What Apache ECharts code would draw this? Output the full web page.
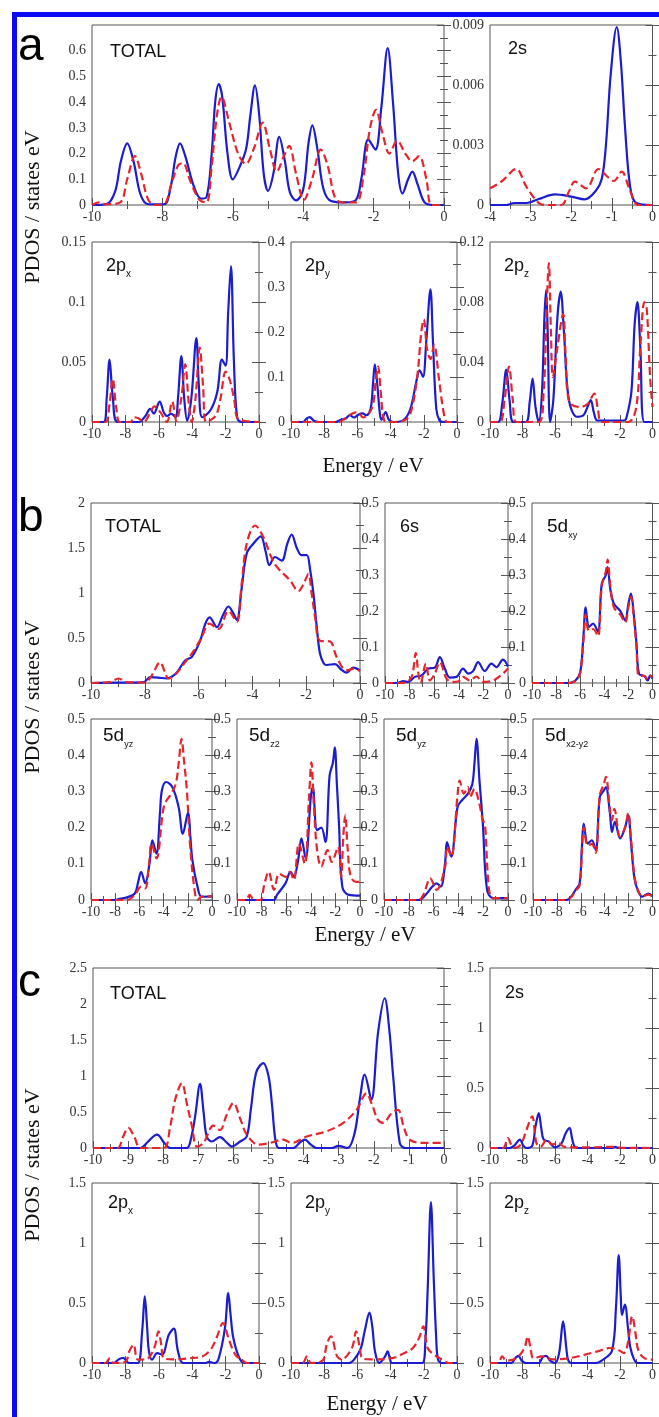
<!DOCTYPE html>
<html>
<head>
<meta charset="utf-8">
<script src="https://cdn.jsdelivr.net/npm/echarts@6/dist/echarts.min.js"></script>
<style>
  html, body { margin: 0; padding: 0; background: #fff; }
  #chart { width: 659px; height: 1417px; }
</style>
</head>
<body>
<div id="chart"></div>
<script>
// ---- data: [energy (eV), PDOS] ----
const aTotalBlue = [[-10,0],[-9.6,0.003],[-9.35,0.05],[-9.18,0.17],[-9.0,0.24],[-8.82,0.17],[-8.62,0.04],[-8.4,0.003],[-7.95,0.003],[-7.78,0.06],[-7.62,0.19],[-7.5,0.24],[-7.35,0.19],[-7.1,0.07],[-6.9,0.025],[-6.75,0.03],[-6.6,0.2],[-6.5,0.4],[-6.4,0.47],[-6.3,0.42],[-6.15,0.2],[-6.0,0.1],[-5.8,0.15],[-5.62,0.22],[-5.5,0.35],[-5.37,0.465],[-5.25,0.35],[-5.12,0.12],[-5.0,0.055],[-4.85,0.12],[-4.68,0.265],[-4.52,0.17],[-4.38,0.05],[-4.2,0.018],[-4.0,0.06],[-3.85,0.24],[-3.74,0.31],[-3.6,0.22],[-3.42,0.06],[-3.2,0.015],[-2.8,0.01],[-2.5,0.02],[-2.35,0.1],[-2.15,0.255],[-1.95,0.215],[-1.78,0.38],[-1.6,0.61],[-1.45,0.4],[-1.3,0.12],[-1.18,0.045],[-1.02,0.1],[-0.9,0.13],[-0.75,0.08],[-0.55,0.01],[-0.3,0],[0,0]];
const aTotalRed = [[-10,0],[-9.8,0.01],[-9.6,0.003],[-9.2,0.01],[-9.0,0.1],[-8.78,0.19],[-8.6,0.12],[-8.4,0.02],[-8.2,0],[-7.95,0.003],[-7.75,0.08],[-7.55,0.155],[-7.42,0.163],[-7.2,0.09],[-6.95,0.02],[-6.75,0.01],[-6.6,0.15],[-6.45,0.35],[-6.32,0.42],[-6.1,0.32],[-5.85,0.2],[-5.63,0.16],[-5.4,0.22],[-5.15,0.32],[-4.95,0.22],[-4.75,0.13],[-4.55,0.19],[-4.4,0.23],[-4.2,0.12],[-3.98,0.02],[-3.75,0.1],[-3.5,0.215],[-3.3,0.15],[-3.1,0.03],[-2.9,0.01],[-2.5,0.01],[-2.3,0.1],[-2.1,0.3],[-1.93,0.37],[-1.75,0.28],[-1.55,0.2],[-1.33,0.25],[-1.1,0.2],[-0.9,0.17],[-0.71,0.19],[-0.5,0.1],[-0.35,0],[0,0]];
const a2sBlue = [[-4,0],[-3.6,0],[-3.4,0.0001],[-3.1,0.0001],[-2.8,0.0003],[-2.4,0.00053],[-2.0,0.00042],[-1.67,0.00028],[-1.4,0.0007],[-1.25,0.0013],[-1.15,0.0029],[-1.03,0.0065],[-0.88,0.0089],[-0.78,0.0072],[-0.68,0.004],[-0.55,0.0009],[-0.4,0.0001],[0,0]];
const a2sRed = [[-4,0.00083],[-3.7,0.0012],[-3.36,0.0018],[-3.1,0.0009],[-2.8,0.0001],[-2.6,0],[-2.25,0],[-2.05,0.0007],[-1.91,0.00117],[-1.63,0.00083],[-1.33,0.0018],[-1.1,0.0014],[-0.95,0.0012],[-0.76,0.00167],[-0.55,0.0007],[-0.35,0],[0,0]];
const a2pxBlue = [[-10,0],[-9.3,0],[-9.12,0.02],[-8.95,0.052],[-8.75,0.02],[-8.45,0],[-7.2,0],[-6.8,0.005],[-6.52,0.011],[-6.3,0.007],[-5.95,0.017],[-5.7,0.008],[-5.5,0.005],[-5.27,0.007],[-5.0,0.004],[-4.85,0.02],[-4.65,0.055],[-4.48,0.02],[-4.3,0.001],[-4.05,0.02],[-3.75,0.07],[-3.6,0.03],[-3.4,0.004],[-2.9,0.01],[-2.5,0.025],[-2.22,0.052],[-2.0,0.047],[-1.85,0.09],[-1.68,0.13],[-1.5,0.05],[-1.3,0.003],[-1.0,0],[0,0]];
const a2pxRed = [[-10,0],[-9.2,0],[-8.95,0.015],[-8.76,0.036],[-8.55,0.012],[-8.33,0],[-7.7,0],[-7.5,0.004],[-7.2,0.003],[-6.9,0],[-6.5,0.008],[-6.27,0.013],[-5.9,0.008],[-5.52,0],[-5.2,0.017],[-4.95,0.001],[-4.65,0.02],[-4.42,0.048],[-4.2,0.015],[-4.03,0],[-3.8,0.02],[-3.55,0.062],[-3.35,0.03],[-3.16,0],[-2.6,0.005],[-2.3,0.02],[-2.0,0.042],[-1.75,0.035],[-1.5,0.02],[-1.2,0.002],[0,0]];
const a2pyBlue = [[-10,0],[-9.3,0],[-9.05,0.008],[-8.88,0.011],[-8.6,0.002],[-8.3,0],[-7.3,0],[-7.0,0.005],[-6.7,0.008],[-6.46,0.015],[-6.2,0.01],[-5.95,0.016],[-5.7,0.019],[-5.45,0.015],[-5.2,0.03],[-5.05,0.09],[-4.95,0.128],[-4.82,0.09],[-4.65,0.02],[-4.55,0.005],[-4.3,0.022],[-4.1,0.005],[-3.8,0],[-3.2,0.005],[-2.8,0.03],[-2.45,0.09],[-2.25,0.115],[-2.05,0.1],[-1.85,0.18],[-1.6,0.295],[-1.45,0.18],[-1.25,0.03],[-1.05,0.003],[-0.8,0],[0,0]];
const a2pyRed = [[-10,0],[-7.2,0],[-6.8,0.006],[-6.5,0.015],[-6.0,0.022],[-5.65,0.01],[-5.3,0.019],[-5.05,0.04],[-4.9,0.09],[-4.75,0.123],[-4.6,0.07],[-4.4,0.005],[-4.1,0],[-3.2,0.003],[-2.8,0.02],[-2.4,0.1],[-2.15,0.2],[-2.0,0.228],[-1.8,0.16],[-1.6,0.14],[-1.38,0.172],[-1.1,0.1],[-0.8,0.02],[-0.6,0],[0,0]];
const a2pzBlue = [[-10,0],[-9.5,0],[-9.25,0.012],[-9.0,0.035],[-8.8,0.015],[-8.55,0],[-7.8,0],[-7.55,0.014],[-7.38,0.029],[-7.2,0.01],[-7.0,0],[-6.8,0.02],[-6.65,0.07],[-6.55,0.088],[-6.45,0.06],[-6.3,0],[-6.1,0.015],[-5.85,0.07],[-5.65,0.087],[-5.45,0.06],[-5.15,0.015],[-4.65,0.0035],[-4.25,0.0045],[-4.0,0.01],[-3.8,0.0146],[-3.6,0.006],[-3.38,0.001],[-1.75,0.001],[-1.6,0.003],[-1.3,0.02],[-1.1,0.065],[-0.93,0.08],[-0.75,0.05],[-0.5,0],[0,0]];
const a2pzRed = [[-10,0],[-9.4,0],[-9.1,0.015],[-8.83,0.037],[-8.6,0.015],[-8.38,0],[-7.0,0],[-6.7,0.02],[-6.5,0.08],[-6.38,0.106],[-6.25,0.06],[-6.13,0.03],[-5.85,0.05],[-5.5,0.072],[-5.35,0.045],[-5.13,0.0135],[-4.5,0.01],[-4.0,0.012],[-3.58,0.019],[-3.35,0.008],[-3.13,0],[-1.5,0],[-1.0,0.01],[-0.75,0.05],[-0.5,0.08],[-0.35,0.075],[-0.15,0.03],[0,0.01]];

const bTotalBlue = [[-10,0],[-9,0.005],[-8.5,0.005],[-8.04,0.01],[-7.8,0.065],[-7.5,0.06],[-7.18,0.05],[-7.0,0.07],[-6.8,0.12],[-6.5,0.25],[-6.25,0.29],[-5.94,0.47],[-5.75,0.66],[-5.59,0.73],[-5.32,0.62],[-5.1,0.75],[-4.89,0.85],[-4.72,0.78],[-4.58,0.7],[-4.4,1.05],[-4.21,1.44],[-3.96,1.55],[-3.69,1.63],[-3.5,1.45],[-3.37,1.31],[-3.16,1.4],[-2.91,1.36],[-2.7,1.55],[-2.54,1.65],[-2.35,1.5],[-2.17,1.42],[-1.98,1.42],[-1.85,1.25],[-1.73,0.99],[-1.6,0.6],[-1.49,0.33],[-1.35,0.22],[-1.24,0.2],[-0.93,0.21],[-0.7,0.15],[-0.5,0.115],[-0.25,0.17],[0,0.14]];
const bTotalRed = [[-10,0],[-9.3,0.01],[-8.97,0.05],[-8.7,0.01],[-8.0,0.005],[-7.75,0.08],[-7.43,0.23],[-7.25,0.12],[-7.12,0.05],[-6.85,0.1],[-6.5,0.23],[-6.2,0.35],[-5.9,0.5],[-5.6,0.66],[-5.26,0.6],[-4.89,0.8],[-4.58,0.68],[-4.4,1.1],[-4.21,1.55],[-3.9,1.75],[-3.59,1.62],[-3.3,1.4],[-3.09,1.29],[-2.6,1.14],[-2.29,1.02],[-2.1,1.1],[-1.92,1.21],[-1.8,1.0],[-1.67,0.73],[-1.49,0.47],[-1.11,0.46],[-0.87,0.29],[-0.5,0.14],[-0.19,0.16],[0,0.13]];
const b6sBlue = [[-10,0],[-9,0],[-8.5,0.005],[-8.1,0.003],[-7.57,0.017],[-7.03,0.021],[-6.49,0.04],[-5.95,0.043],[-5.54,0.072],[-5.14,0.04],[-4.73,0.015],[-4.19,0.017],[-3.65,0.04],[-3.24,0.026],[-2.84,0.033],[-2.43,0.058],[-1.89,0.033],[-1.35,0.054],[-0.95,0.044],[-0.41,0.065],[0,0.046]];
const b6sRed = [[-10,0],[-8.8,0],[-8.2,0.003],[-7.8,0.02],[-7.5,0.083],[-7.3,0.03],[-7.1,0],[-6.68,0.054],[-6.35,0.007],[-5.95,0.026],[-5.54,0.058],[-5.0,0.012],[-4.5,0.003],[-4.0,0.005],[-3.65,0.017],[-3.1,0.007],[-2.57,0.018],[-2.03,0.003],[-1.2,0.007],[-0.41,0.026],[0,0.04]];
const b5dxyBlue = [[-10,0],[-7,0],[-6.4,0.007],[-6.0,0.03],[-5.75,0.12],[-5.55,0.21],[-5.4,0.17],[-5.28,0.156],[-4.93,0.165],[-4.53,0.142],[-4.21,0.276],[-3.87,0.3],[-3.73,0.322],[-3.5,0.26],[-3.2,0.22],[-2.67,0.2],[-2.27,0.174],[-2.0,0.22],[-1.79,0.248],[-1.55,0.19],[-1.33,0.109],[-1.12,0.026],[-0.67,0.019],[-0.4,0.007],[-0.19,0.021],[0,0.012]];
const b5dxyRed = [[-10,0],[-7,0],[-6.4,0.005],[-6.0,0.028],[-5.75,0.11],[-5.55,0.19],[-5.4,0.155],[-5.28,0.145],[-4.93,0.15],[-4.53,0.13],[-4.21,0.27],[-3.87,0.31],[-3.73,0.343],[-3.5,0.27],[-3.2,0.21],[-2.67,0.19],[-2.27,0.168],[-2.0,0.21],[-1.79,0.24],[-1.55,0.18],[-1.33,0.1],[-1.12,0.02],[-0.67,0.02],[-0.4,0.01],[-0.19,0.02],[0,0.015]];
const b5dyzBlue = [[-10,0],[-8,0],[-7.76,0.002],[-7.07,0.007],[-6.38,0.018],[-6.1,0.05],[-5.86,0.078],[-5.52,0.046],[-5.17,0.1],[-4.93,0.165],[-4.59,0.128],[-4.3,0.24],[-4.14,0.303],[-3.79,0.326],[-3.28,0.312],[-2.76,0.257],[-2.41,0.183],[-1.97,0.243],[-1.8,0.18],[-1.62,0.11],[-1.2,0.037],[-0.86,0.009],[0,0.01]];
const b5dyzRed = [[-10,0],[-7,0],[-6.38,0.014],[-5.86,0.037],[-5.52,0.032],[-5.2,0.1],[-5.0,0.156],[-4.59,0.115],[-3.97,0.26],[-3.45,0.29],[-3.0,0.32],[-2.75,0.38],[-2.52,0.445],[-2.3,0.38],[-2.07,0.3],[-1.83,0.16],[-1.48,0.037],[-1.2,0],[-0.8,0.01],[0,0.01]];
const b5dz2Blue = [[-10,0],[-7,0],[-6.75,0.014],[-6.06,0.046],[-5.65,0.078],[-5.38,0.064],[-5.03,0.11],[-4.76,0.17],[-4.42,0.115],[-4.0,0.284],[-3.84,0.312],[-3.49,0.193],[-3.15,0.2],[-2.81,0.16],[-2.47,0.344],[-2.2,0.38],[-2.05,0.422],[-1.88,0.32],[-1.71,0.211],[-1.44,0.037],[-0.92,0.014],[0,0.012]];
const b5dz2Red = [[-10,0],[-9.3,0],[-8.97,0.014],[-8.6,0],[-8.1,0],[-7.8,0.04],[-7.43,0.078],[-6.99,0.028],[-6.58,0.073],[-6.06,0.064],[-5.72,0.078],[-5.38,0.055],[-4.97,0.156],[-4.49,0.1],[-4.15,0.28],[-3.95,0.38],[-3.75,0.26],[-3.49,0.138],[-3.15,0.092],[-2.64,0.138],[-2.3,0.105],[-1.78,0.147],[-1.54,0.064],[-1.35,0.18],[-1.2,0.234],[-1.0,0.14],[-0.75,0.064],[-0.3,0.05],[0,0.05]];
const b5dyz2Blue = [[-10,0],[-7.2,0],[-6.78,0.009],[-6.1,0.037],[-5.76,0.046],[-5.42,0.037],[-5.08,0.1],[-4.92,0.16],[-4.58,0.12],[-4.07,0.257],[-3.73,0.275],[-3.22,0.294],[-2.88,0.32],[-2.7,0.38],[-2.54,0.445],[-2.3,0.33],[-2.03,0.211],[-1.69,0.028],[-1.19,0.005],[0,0.005]];
const b5dyz2Red = [[-10,0],[-7.2,0],[-6.78,0.018],[-6.27,0.06],[-5.76,0.028],[-5.08,0.09],[-4.92,0.147],[-4.58,0.12],[-4.07,0.29],[-3.9,0.33],[-3.56,0.294],[-3.22,0.312],[-3.05,0.284],[-2.71,0.307],[-2.37,0.275],[-2.03,0.22],[-1.86,0.21],[-1.53,0.028],[-1.2,0.005],[0,0.005]];
const b5dx2Blue = [[-10,0],[-7.2,0],[-6.8,0.01],[-6.44,0.028],[-6.1,0.046],[-5.9,0.15],[-5.76,0.211],[-5.42,0.156],[-5.08,0.165],[-4.75,0.138],[-4.41,0.284],[-4.07,0.303],[-3.9,0.312],[-3.56,0.239],[-3.39,0.188],[-3.15,0.216],[-2.71,0.17],[-2.3,0.2],[-2.03,0.234],[-1.8,0.16],[-1.53,0.064],[-1.25,0.028],[-0.85,0.009],[-0.34,0.018],[0,0.01]];
const b5dx2Red = [[-10,0],[-7.2,0],[-6.8,0.008],[-6.44,0.025],[-6.1,0.04],[-5.9,0.14],[-5.76,0.2],[-5.42,0.15],[-5.08,0.155],[-4.75,0.13],[-4.41,0.29],[-4.07,0.32],[-3.9,0.34],[-3.56,0.25],[-3.39,0.22],[-3.2,0.252],[-2.71,0.175],[-2.3,0.2],[-2.03,0.24],[-1.8,0.17],[-1.53,0.07],[-1.25,0.03],[-0.85,0.01],[-0.34,0.015],[0,0.01]];

const cTotalBlue = [[-10,0],[-8.65,0],[-8.45,0.08],[-8.18,0.185],[-7.95,0.06],[-7.8,0],[-7.33,0],[-7.2,0.15],[-7.09,0.44],[-6.95,0.89],[-6.85,0.5],[-6.76,0.16],[-6.62,0.09],[-6.38,0.15],[-6.2,0.08],[-6.05,0.02],[-5.81,0.09],[-5.62,0.16],[-5.5,0.55],[-5.35,1.05],[-5.15,1.18],[-5.0,1.0],[-4.9,0.6],[-4.8,0.1],[-4.7,0],[-4.29,0],[-4.1,0.08],[-3.96,0.116],[-3.8,0.05],[-3.63,0],[-3.2,0],[-3.01,0.03],[-2.75,0],[-2.55,0.2],[-2.4,0.67],[-2.26,1.02],[-2.07,0.67],[-1.88,1.6],[-1.69,2.08],[-1.55,1.6],[-1.45,1.0],[-1.26,0.07],[-1.1,0],[0,0]];
const cTotalRed = [[-10,0],[-9.3,0],[-9.15,0.15],[-8.99,0.28],[-8.82,0.15],[-8.65,0],[-7.99,0],[-7.8,0.3],[-7.66,0.67],[-7.47,0.9],[-7.32,0.6],[-7.18,0.3],[-7.04,0.02],[-6.85,0.07],[-6.57,0.31],[-6.38,0.25],[-6.2,0.45],[-6.0,0.625],[-5.8,0.4],[-5.62,0.185],[-5.29,0.046],[-4.96,0.07],[-4.58,0.116],[-4.34,0.07],[-3.91,0.16],[-3.35,0.23],[-2.87,0.35],[-2.49,0.53],[-2.21,0.76],[-2.05,0.6],[-1.88,0.39],[-1.73,0.35],[-1.5,0.48],[-1.31,0.53],[-1.15,0.3],[-0.98,0.116],[-0.6,0.07],[0,0.07]];
const c2sBlue = [[-10,0],[-8.8,0],[-8.5,0.02],[-8.16,0.07],[-7.95,0.02],[-7.76,0],[-7.4,0.02],[-7.2,0.18],[-7.0,0.29],[-6.85,0.17],[-6.7,0.07],[-6.4,0.055],[-6.0,0.005],[-5.6,0.04],[-5.35,0.12],[-5.1,0.167],[-4.95,0.08],[-4.8,0.014],[-4.5,0],[-2.5,0],[-2.3,0.01],[-2.1,0],[0,0]];
const c2sRed = [[-10,0],[-9.2,0],[-8.9,0.083],[-8.7,0.03],[-8.5,0],[-8.1,0.03],[-7.76,0.15],[-7.4,0.264],[-7.25,0.14],[-7.14,0.04],[-6.9,0.01],[-6.5,0.07],[-6.2,0.03],[-5.8,0.04],[-5.4,0.01],[-4.0,0.005],[-2.3,0.01],[-2.0,0.003],[0,0]];
const c2pxBlue = [[-10,0],[-8.7,0],[-8.4,0.03],[-8.13,0.042],[-7.9,0.01],[-7.76,0],[-7.26,0],[-7.0,0.26],[-6.84,0.555],[-6.7,0.3],[-6.59,0.097],[-6.4,0.028],[-6.1,0.083],[-5.8,0.07],[-5.4,0.236],[-5.1,0.286],[-4.85,0.097],[-4.53,0],[-3.2,0],[-3.0,0.01],[-2.66,0],[-2.41,0.04],[-2.04,0.29],[-1.84,0.583],[-1.7,0.4],[-1.54,0.21],[-1.17,0.04],[-0.8,0],[0,0]];
const c2pxRed = [[-10,0],[-9.2,0],[-8.93,0.04],[-8.7,0],[-8.0,0.01],[-7.76,0.1],[-7.51,0.153],[-7.26,0.028],[-6.77,0.03],[-6.27,0.125],[-6.02,0.264],[-5.85,0.15],[-5.7,0.04],[-5.15,0.03],[-4.15,0.04],[-3.4,0.055],[-2.9,0.11],[-2.54,0.21],[-2.16,0.333],[-1.79,0.19],[-1.42,0.07],[-1.05,0.028],[-0.7,0],[0,0]];
const c2pyBlue = [[-10,0],[-6.5,0],[-6.2,0.028],[-5.8,0.12],[-5.57,0.26],[-5.27,0.42],[-5.1,0.3],[-4.94,0.097],[-4.68,0],[-4.35,0.05],[-4.18,0.097],[-4.05,0.04],[-3.92,0],[-2.1,0],[-1.9,0.2],[-1.77,0.6],[-1.57,1.34],[-1.4,0.7],[-1.25,0.2],[-1.14,0.028],[-0.9,0],[0,0]];
const c2pyRed = [[-10,0],[-9.3,0],[-9.04,0.055],[-8.8,0],[-8.1,0.02],[-7.85,0.153],[-7.6,0.222],[-7.22,0.055],[-6.96,0.03],[-6.33,0.125],[-6.08,0.264],[-5.85,0.12],[-5.7,0.04],[-5.19,0.03],[-3.92,0.04],[-3.16,0.083],[-2.66,0.125],[-2.28,0.21],[-2.03,0.306],[-1.77,0.125],[-1.39,0.07],[-0.89,0.028],[-0.5,0],[0,0]];
const c2pzBlue = [[-10,0],[-8.7,0],[-8.45,0.04],[-8.25,0.06],[-8.05,0.02],[-7.8,0],[-7.0,0],[-6.75,0.05],[-6.55,0.06],[-6.3,0.02],[-6.0,0],[-5.75,0.08],[-5.5,0.347],[-5.3,0.12],[-5.2,0.028],[-5.0,0],[-3.5,0],[-3.13,0.02],[-2.5,0.1],[-2.25,0.46],[-2.08,0.9],[-1.95,0.55],[-1.88,0.4],[-1.7,0.486],[-1.5,0.28],[-1.38,0.14],[-1.13,0.028],[-0.9,0],[0,0]];
const c2pzRed = [[-10,0],[-9.5,0],[-9.25,0.055],[-9.0,0.02],[-8.38,0.04],[-7.88,0.125],[-7.68,0.222],[-7.5,0.12],[-7.33,0.04],[-6.8,0.055],[-6.63,0.05],[-6.13,0.03],[-5.13,0.04],[-4.13,0.07],[-3.38,0.097],[-2.63,0.125],[-2.13,0.11],[-1.75,0.083],[-1.5,0.18],[-1.25,0.39],[-1.05,0.25],[-0.88,0.11],[-0.5,0.04],[0,0.028]];

// axis ranges: [min, max, interval]
const xFull = [-10, 0, 2];
const xFine = [-10, 0, 1];
const x2s = [-4, 0, 1];

const BLUE = '#1c1cd0';
const RED = '#e4252c';
const AXIS = '#555';
const SERIF = 'Liberation Serif';
const SANS = 'Liberation Sans';

// box = [left, top, width, height], t = title offset [dx, dy]
const panels = [
  { box: [92, 25, 352, 180], x: xFull, y: [0.7, 0.1], title: ['TOTAL'], t: [18, 27], blue: aTotalBlue, red: aTotalRed, hideMax: true },
  { box: [490, 25, 166, 180], x: x2s, y: [0.009, 0.003], title: ['2s'], t: [18, 24], blue: a2sBlue, red: a2sRed },
  { box: [92, 242, 167, 180], x: xFull, y: [0.15, 0.05], title: ['2p', 'x'], t: [14, 24], blue: a2pxBlue, red: a2pxRed },
  { box: [291, 242, 166, 180], x: xFull, y: [0.4, 0.1], title: ['2p', 'y'], t: [14, 24], blue: a2pyBlue, red: a2pyRed },
  { box: [490, 242, 167, 180], x: xFull, y: [0.12, 0.04], title: ['2p', 'z'], t: [14, 24], blue: a2pzBlue, red: a2pzRed },

  { box: [91, 503, 269, 180], x: xFull, y: [2, 0.5], title: ['TOTAL'], t: [14, 24], blue: bTotalBlue, red: bTotalRed },
  { box: [385, 503, 123, 180], x: xFull, y: [0.5, 0.1], title: ['6s'], t: [15, 24], blue: b6sBlue, red: b6sRed },
  { box: [532, 503, 125, 180], x: xFull, y: [0.5, 0.1], title: ['5d', 'xy'], t: [15, 24], blue: b5dxyBlue, red: b5dxyRed },
  { box: [91, 719, 121, 181], x: xFull, y: [0.5, 0.1], title: ['5d', 'yz'], t: [12, 17], blue: b5dyzBlue, red: b5dyzRed },
  { box: [237, 719, 123, 181], x: xFull, y: [0.5, 0.1], title: ['5d', 'z2'], t: [12, 17], blue: b5dz2Blue, red: b5dz2Red },
  { box: [384, 719, 124, 181], x: xFull, y: [0.5, 0.1], title: ['5d', 'yz'], t: [12, 17], blue: b5dyz2Blue, red: b5dyz2Red },
  { box: [533, 719, 124, 181], x: xFull, y: [0.5, 0.1], title: ['5d', 'x2-y2'], t: [12, 17], blue: b5dx2Blue, red: b5dx2Red },

  { box: [93, 968, 351, 180], x: xFine, y: [2.5, 0.5], title: ['TOTAL'], t: [17, 26], blue: cTotalBlue, red: cTotalRed },
  { box: [490, 968, 167, 180], x: xFull, y: [1.5, 0.5], title: ['2s'], t: [15, 25], blue: c2sBlue, red: c2sRed },
  { box: [92, 1183, 167, 180], x: xFull, y: [1.5, 0.5], title: ['2p', 'x'], t: [16, 20], blue: c2pxBlue, red: c2pxRed },
  { box: [291, 1183, 166, 180], x: xFull, y: [1.5, 0.5], title: ['2p', 'y'], t: [14, 20], blue: c2pyBlue, red: c2pyRed },
  { box: [490, 1183, 167, 180], x: xFull, y: [1.5, 0.5], title: ['2p', 'z'], t: [14, 20], blue: c2pzBlue, red: c2pzRed }
];

const chart = echarts.init(document.getElementById('chart'), null, { renderer: 'canvas' });

const grid = [], xAxis = [], yAxis = [], series = [], graphic = [];

const tickStyle = { color: AXIS, width: 1 };

panels.forEach((p, i) => {
  grid.push({
    left: p.box[0], top: p.box[1], width: p.box[2], height: p.box[3],
    show: true, borderColor: AXIS, borderWidth: 1, backgroundColor: 'transparent', containLabel: false
  });
  const xCommon = {
    gridIndex: i, type: 'value', min: p.x[0], max: p.x[1], interval: p.x[2],
    splitLine: { show: false },
    axisLine: { show: false },
    axisTick: { show: true, inside: true, length: 7, lineStyle: tickStyle },
    minorTick: { show: true, splitNumber: 2, length: 4, lineStyle: tickStyle }
  };
  xAxis.push(Object.assign({}, xCommon, {
    position: 'bottom',
    axisLabel: { fontFamily: SERIF, fontSize: 14, color: '#333', margin: 5 }
  }));
  xAxis.push(Object.assign({}, xCommon, { position: 'top', axisLabel: { show: false } }));

  const yCommon = {
    gridIndex: i, type: 'value', min: 0, max: p.y[0], interval: p.y[1],
    splitLine: { show: false },
    axisLine: { show: false },
    axisTick: { show: true, inside: true, length: 7, lineStyle: tickStyle },
    minorTick: { show: true, splitNumber: 2, length: 4, lineStyle: tickStyle }
  };
  yAxis.push(Object.assign({}, yCommon, {
    position: 'left',
    axisLabel: { fontFamily: SERIF, fontSize: 14, color: '#333', margin: 6, showMaxLabel: !p.hideMax }
  }));
  yAxis.push(Object.assign({}, yCommon, { position: 'right', axisLabel: { show: false } }));

  series.push({
    type: 'line', xAxisIndex: 2 * i, yAxisIndex: 2 * i, data: p.blue,
    showSymbol: false, smooth: 0.35, clip: true, z: 2,
    lineStyle: { color: BLUE, width: 2.2 }
  });
  series.push({
    type: 'line', xAxisIndex: 2 * i, yAxisIndex: 2 * i, data: p.red,
    showSymbol: false, smooth: 0.35, clip: true, z: 3,
    lineStyle: { color: RED, width: 2.2, type: [8, 4] }
  });

  const sub = p.title[1];
  const isD = p.title[0] === '5d';
  graphic.push({
    type: 'text', x: p.box[0] + p.t[0], y: p.box[1] + p.t[1],
    style: {
      text: sub ? '{m|' + p.title[0] + '}{s|' + sub + '}' : p.title[0],
      fontFamily: SANS, fontSize: 18, fill: '#111', verticalAlign: 'middle',
      rich: {
        m: { fontFamily: SANS, fontSize: isD ? 19 : 18, fill: '#111', lineHeight: 20 },
        s: { fontFamily: SANS, fontSize: isD ? 9 : 10, fill: '#111', lineHeight: 10, verticalAlign: 'bottom', padding: [0, 0, -3, 0] }
      }
    }
  });
});

// panel letters
[['a', 47], ['b', 518], ['c', 983]].forEach(([s, y]) => {
  graphic.push({ type: 'text', x: 18, y: y, style: { text: s, fontFamily: SANS, fontSize: 46, fill: '#000', verticalAlign: 'middle' } });
});

// axis names
[[373, 466], [365, 935], [377, 1404]].forEach(([x, y]) => {
  graphic.push({ type: 'text', x: x, y: y, style: { text: 'Energy / eV', fontFamily: SERIF, fontSize: 21, fill: '#111', align: 'center', verticalAlign: 'middle' } });
});
[207, 697, 1165].forEach((y) => {
  graphic.push({ type: 'text', x: 33, y: y, rotation: Math.PI / 2, style: { text: 'PDOS / states eV', fontFamily: SERIF, fontSize: 22, fill: '#111', align: 'center', verticalAlign: 'middle' } });
});

// blue frame
graphic.push({ type: 'rect', shape: { x: 12, y: 12, width: 647, height: 5 }, style: { fill: '#0a0af5' } });
graphic.push({ type: 'rect', shape: { x: 12, y: 12, width: 5, height: 1405 }, style: { fill: '#0a0af5' } });

chart.setOption({
  animation: false,
  backgroundColor: '#fff',
  grid: grid,
  xAxis: xAxis,
  yAxis: yAxis,
  series: series,
  graphic: graphic
});
</script>
</body>
</html>
